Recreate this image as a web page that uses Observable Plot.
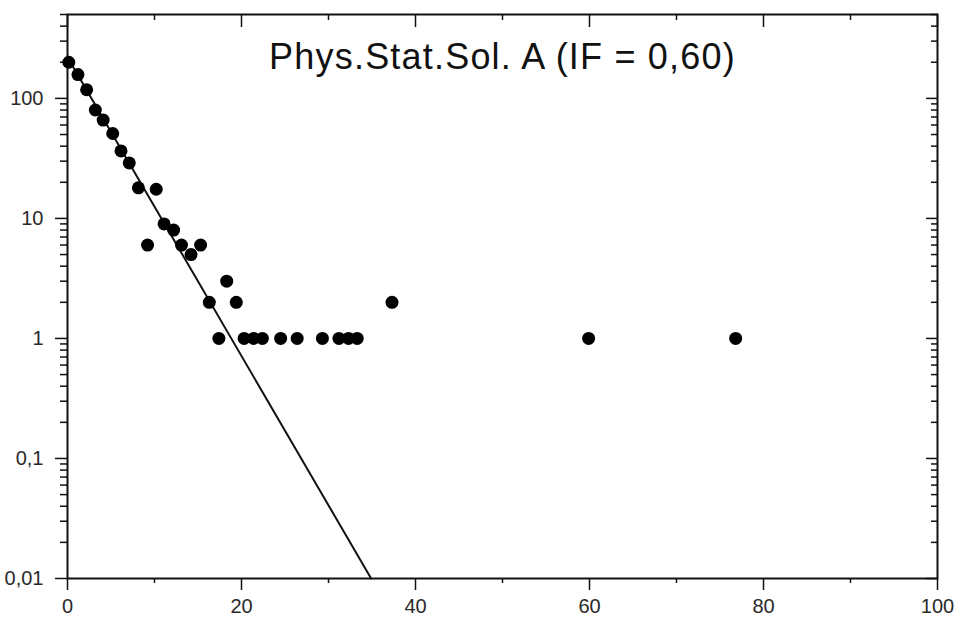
<!DOCTYPE html>
<html>
<head>
<meta charset="utf-8">
<script src="https://cdn.jsdelivr.net/npm/d3@7"></script>
<script src="https://cdn.jsdelivr.net/npm/@observablehq/plot@0.6"></script>
<style>
  html, body { margin: 0; padding: 0; background: #fff; }
  #chart svg { display: block; }
</style>
</head>
<body>
<div id="chart"></div>
<script>
const titleText = "Phys.Stat.Sol. A (IF = 0,60)";

// scatter points
const pointX = [0.15, 1.2, 2.2, 3.2, 4.1, 5.2, 6.15, 7.1, 8.15, 9.2, 10.2, 11.1, 12.2, 13.1, 14.2, 15.3, 16.3, 17.4, 18.3, 19.4, 20.3, 21.4, 22.4, 24.5, 26.4, 29.3, 31.2, 32.3, 33.3, 37.3, 59.9, 76.8];
const pointY = [200, 158, 118, 80, 66, 51, 36.5, 29, 18, 6, 17.5, 9, 8, 6, 5, 6, 2, 1, 3, 2, 1, 1, 1, 1, 1, 1, 1, 1, 1, 2, 1, 1];

// fitted exponential line
const fitX = [0, 34.9];
const fitY = [220, 0.01];

// axis ticks
const yMajor = [0.01, 0.1, 1, 10, 100];
const yLabels = ["0,01", "0,1", "1", "10", "100"];
const xMajor = [0, 20, 40, 60, 80, 100];
const xMinor = [10, 30, 50, 70, 90];
const yMinor = [];
for (const d of [0.01, 0.1, 1, 10, 100]) for (let k = 2; k <= 9; k++) { const v = d * k; if (v <= 500) yMinor.push(v); }

const points = pointX.map((x, i) => ({x, y: pointY[i]}));
const fit = fitX.map((x, i) => ({x, y: fitY[i]}));

const font = "'Liberation Sans', Arial, Helvetica, sans-serif";
const fmtY = v => yLabels[yMajor.indexOf(v)];
const none = () => "";
const tk = {label: null, stroke: "#111", strokeWidth: 1.5};

const chart = Plot.plot({
  width: 961,
  height: 620,
  marginLeft: 67,
  marginRight: 24,
  marginTop: 14,
  marginBottom: 42,
  style: {fontFamily: font, background: "#fff", color: "#222"},
  x: {domain: [0, 100]},
  y: {type: "log", domain: [0.01, 500]},
  marks: [
    Plot.frame({stroke: "#111", strokeWidth: 2}),
    // left axis
    Plot.axisY({anchor: "left", ticks: yMajor, tickSize: 12, tickPadding: 12, tickFormat: fmtY, fontSize: 20, fill: "#2a2a2a", ...tk}),
    Plot.axisY({anchor: "left", ticks: yMinor, tickSize: 7, tickFormat: none, ...tk}),
    // right axis (inward)
    Plot.axisY({anchor: "right", ticks: yMajor, tickSize: -12, tickFormat: none, ...tk}),
    Plot.axisY({anchor: "right", ticks: yMinor, tickSize: -7, tickFormat: none, ...tk}),
    // bottom axis
    Plot.axisX({anchor: "bottom", ticks: xMajor, tickSize: 12, tickPadding: 8, tickFormat: d => String(d), fontSize: 20, fill: "#2a2a2a", ...tk}),
    Plot.axisX({anchor: "bottom", ticks: xMinor, tickSize: 5, tickFormat: none, ...tk}),
    // top axis (inward)
    Plot.axisX({anchor: "top", ticks: xMajor, tickSize: -12, tickFormat: none, ...tk}),
    Plot.axisX({anchor: "top", ticks: xMinor, tickSize: -5, tickFormat: none, ...tk}),
    Plot.line(fit, {x: "x", y: "y", stroke: "#111", strokeWidth: 2}),
    Plot.dot(points, {x: "x", y: "y", r: 6.5, fill: "#000", stroke: "none"}),
    Plot.text([titleText], {frameAnchor: "top", dy: 43, text: d => d, fontSize: 36, fill: "#111", lineAnchor: "middle"})
  ]
});
chart.querySelectorAll("text").forEach(t => {
  if (t.textContent === titleText) t.setAttribute("letter-spacing", "1.2");
});
document.getElementById("chart").appendChild(chart);
</script>
</body>
</html>
